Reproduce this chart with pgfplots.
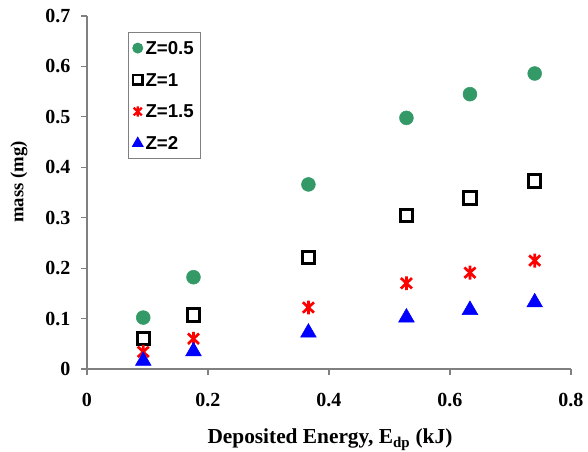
\documentclass[border=0pt]{standalone}
\usepackage{pgfplots}
\pgfplotsset{compat=1.18}
\usepackage{fontspec}
\setmainfont{Liberation Serif}
\newfontfamily\arialfont{Liberation Sans}
\definecolor{zgreen}{HTML}{339966}
\definecolor{axgray}{HTML}{808080}
% asterisk as in the original: vertical bar plus an X
\pgfdeclareplotmark{xstar}{%
  \pgfpathmoveto{\pgfqpoint{0pt}{\pgfplotmarksize}}%
  \pgfpathlineto{\pgfqpoint{0pt}{-\pgfplotmarksize}}%
  \pgfpathmoveto{\pgfqpoint{-0.8\pgfplotmarksize}{0.75\pgfplotmarksize}}%
  \pgfpathlineto{\pgfqpoint{0.8\pgfplotmarksize}{-0.75\pgfplotmarksize}}%
  \pgfpathmoveto{\pgfqpoint{-0.8\pgfplotmarksize}{-0.75\pgfplotmarksize}}%
  \pgfpathlineto{\pgfqpoint{0.8\pgfplotmarksize}{0.75\pgfplotmarksize}}%
  \pgfusepathqstroke}

\begin{document}
\begin{tikzpicture}[x=0.75pt,y=0.75pt]
\useasboundingbox (-87,-83) rectangle (501,369);
\begin{axis}[at={(0,0)}, anchor=south west, scale only axis,
  width=363pt, height=264.75pt,
  xmin=0, xmax=0.8, ymin=0, ymax=0.7,
  xtick={0,0.2,0.4,0.6,0.8}, ytick={0,0.1,...,0.7},
  axis lines*=left, axis line style={axgray, line width=0.9pt},
  tick style={axgray, line width=0.9pt}, tick align=outside,
  major tick length=4.5pt,
  ticklabel style={font=\fontsize{15}{17}\selectfont\bfseries},
  xticklabel style={yshift=-10pt},
  yticklabel style={xshift=-4.5pt},
  /pgf/number format/assume math mode=true,
  /pgf/number format/.cd, fixed, precision=1, /pgfplots/.cd,
  xlabel={Deposited Energy, E\textsubscript{dp} (kJ)},
  ylabel={mass (mg)},
  xlabel style={font=\fontsize{16}{18}\selectfont\bfseries,
    at={(axis description cs:0.502,0)}, anchor=base, yshift=-56pt},
  ylabel style={font=\fontsize{14}{16}\selectfont\bfseries,
    at={(axis description cs:-0.1405,0.53)}, anchor=center},
  legend style={at={(0.085,0.955)}, anchor=north west,
    draw=axgray, line width=0.8pt,
    font=\arialfont\fontsize{14}{16}\selectfont\bfseries,
    nodes={text height=10.5pt, text depth=1pt},
    row sep=8.3pt, inner xsep=3pt, inner ysep=4pt},
  legend cell align=left,
  legend image code/.code={\draw[#1] plot coordinates {(0.12cm,0cm)};},
]
\addplot[only marks, mark=*, color=zgreen, mark size=5.2pt,
  legend image post style={mark size=3.7pt}] coordinates {
  (0.093,0.102) (0.176,0.182) (0.366,0.366) (0.528,0.498) (0.633,0.545) (0.740,0.586)};
\addlegendentry{Z=0.5}
\addplot[only marks, mark=square, color=black, mark size=4.6pt, line width=2.2pt,
  legend image post style={mark size=3.5pt, line width=1.9pt}] coordinates {
  (0.093,0.060) (0.176,0.107) (0.366,0.221) (0.528,0.304) (0.633,0.339) (0.740,0.373)};
\addlegendentry{Z=1}
\addplot[only marks, mark=xstar, color=red, mark size=5.2pt, line width=2pt,
  legend image post style={mark size=3.8pt, line width=1.7pt}] coordinates {
  (0.093,0.034) (0.176,0.060) (0.366,0.122) (0.528,0.170) (0.633,0.191) (0.740,0.215)};
\addlegendentry{Z=1.5}
\addplot[only marks, mark=triangle*, color=blue, mark size=6.8pt,
  legend image post style={mark size=4.4pt}] coordinates {
  (0.093,0.016) (0.176,0.035) (0.366,0.072) (0.528,0.102) (0.633,0.117) (0.740,0.132)};
\addlegendentry{Z=2}
\end{axis}
\end{tikzpicture}
\end{document}
